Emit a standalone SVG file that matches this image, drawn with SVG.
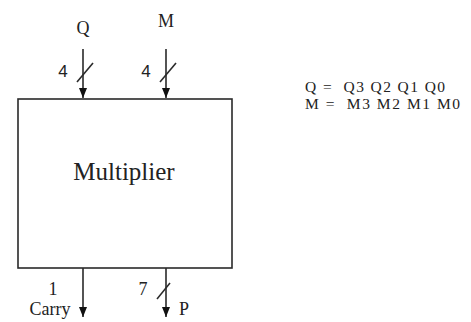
<svg xmlns="http://www.w3.org/2000/svg" width="471" height="322" viewBox="0 0 471 322">
<style>
.ln{stroke:#2a2a2a;stroke-width:1.6;fill:none}
.t{font-family:"Liberation Serif",serif;fill:#222}
.s{font-family:"Liberation Sans",sans-serif;fill:#222}
</style>
<defs>
<marker id="a" markerWidth="10" markerHeight="8" refX="10" refY="4" orient="auto" markerUnits="userSpaceOnUse">
<path d="M0,0 L10,4 L0,8 Z" fill="#111"/>
</marker>
</defs>
<rect width="471" height="322" fill="#fff"/>
<g id="multiplier">
<rect x="18" y="99" width="214" height="169" fill="#fff" stroke="#2a2a2a" stroke-width="1.6"/>
<text class="t" x="124" y="180" font-size="25" text-anchor="middle">Multiplier</text>
</g>
<g id="legend">
<text class="t" x="305" y="92" font-size="15.5" textLength="140" lengthAdjust="spacing" xml:space="preserve">Q =  Q3 Q2 Q1 Q0</text>
<text class="t" x="305" y="109" font-size="15.5" textLength="155" lengthAdjust="spacing" xml:space="preserve">M =  M3 M2 M1 M0</text>
</g>
<g id="labels">
<text class="t" x="83" y="34" font-size="18" text-anchor="middle">Q</text>
<text class="t" x="166" y="27" font-size="18" text-anchor="middle">M</text>
<text class="s" x="63" y="77" font-size="17" text-anchor="middle">4</text>
<text class="s" x="146" y="77" font-size="17" text-anchor="middle">4</text>
<text class="t" x="53" y="295" font-size="18" text-anchor="middle">1</text>
<text class="t" x="143" y="295" font-size="18" text-anchor="middle">7</text>
<text class="t" x="50" y="315" font-size="18" text-anchor="middle">Carry</text>
<text class="t" x="184" y="315" font-size="18" text-anchor="middle">P</text>
</g>
<g id="connectors">
<line class="ln" x1="83" y1="49" x2="83" y2="98" marker-end="url(#a)"/>
<line class="ln" x1="166" y1="49" x2="166" y2="98" marker-end="url(#a)"/>
<line class="ln" x1="83" y1="268" x2="83" y2="317" marker-end="url(#a)"/>
<line class="ln" x1="166" y1="268" x2="166" y2="317" marker-end="url(#a)"/>
<line class="ln" x1="77" y1="82" x2="93" y2="63"/>
<line class="ln" x1="160" y1="82" x2="176" y2="63"/>
<line class="ln" x1="157" y1="299" x2="170" y2="283"/>
</g>
</svg>
